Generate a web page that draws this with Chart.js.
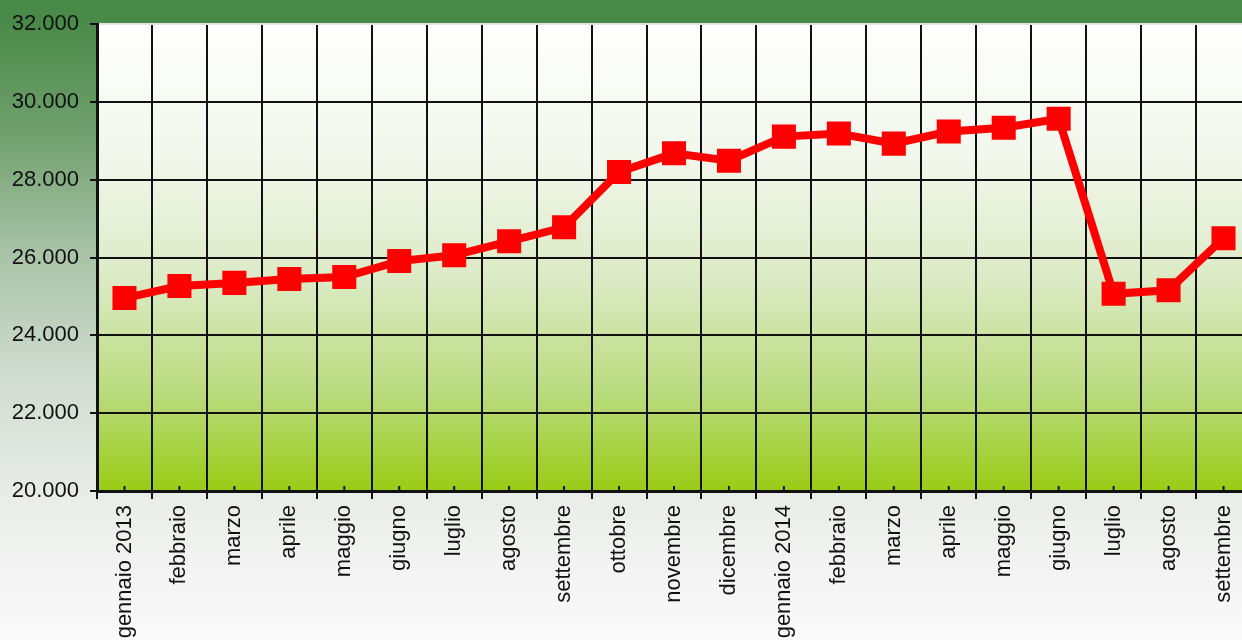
<!DOCTYPE html>
<html>
<head>
<meta charset="utf-8">
<script src="https://cdn.jsdelivr.net/npm/chart.js@4.4.0/dist/chart.umd.min.js"></script>
<style>
  html, body {
    margin: 0;
    padding: 0;
    width: 1242px;
    height: 640px;
    overflow: hidden;
  }
  body {
    background: linear-gradient(to bottom, #4a8a48 0%, #4a8a48 3.3%, #6e9f6c 20%, #a9c3a8 40%, #d2ddd2 60%, #eceeec 80%, #fafafa 100%);
  }
  #wrap {
    position: absolute;
    left: 0;
    top: 0;
    width: 1268px;
    height: 640px;
  }
</style>
</head>
<body>
<div id="wrap"><canvas id="myChart" width="1268" height="640"></canvas></div>
<script>
var months = ['gennaio 2013', 'febbraio', 'marzo', 'aprile', 'maggio', 'giugno', 'luglio', 'agosto', 'settembre', 'ottobre', 'novembre', 'dicembre',
  'gennaio 2014', 'febbraio', 'marzo', 'aprile', 'maggio', 'giugno', 'luglio', 'agosto', 'settembre'];
var values = [24960, 25270, 25350, 25450, 25500, 25910, 26060, 26420, 26780, 28200, 28680, 28490,
  29110, 29190, 28930, 29240, 29340, 29570, 25070, 25160, 26500];
var yMin = 20000;
var yMax = 32000;
var yStep = 2000;

var ctx, myChart;

// plot area fill, white at top to yellow green at bottom
var plotBg = {
  id: 'plotBg',
  beforeDraw: function (chart) {
    var a = chart.chartArea;
    var c = chart.ctx;
    var g = c.createLinearGradient(0, a.top, 0, a.bottom);
    g.addColorStop(0, '#ffffff');
    g.addColorStop(0.3, '#f1f6ea');
    g.addColorStop(0.55, '#dbeac4');
    g.addColorStop(0.8, '#b8da7a');
    g.addColorStop(1, '#99cc14');
    c.save();
    c.fillStyle = g;
    c.fillRect(a.left, a.top, a.right - a.left, a.bottom - a.top);
    c.restore();
  }
};

// small ticks at the category centres, pointing up into the plot
var minorTicks = {
  id: 'minorTicks',
  beforeDatasetsDraw: function (chart) {
    var x = chart.scales.x;
    var c = chart.ctx;
    var i, px;
    c.save();
    c.strokeStyle = '#111';
    c.lineWidth = 2;
    for (i = 0; i < months.length; i++) {
      px = x.getPixelForValue(i);
      c.beginPath();
      c.moveTo(px, chart.chartArea.bottom);
      c.lineTo(px, chart.chartArea.bottom - 5);
      c.stroke();
    }
    c.restore();
  }
};

ctx = document.getElementById('myChart');
myChart = new Chart(ctx, {
  type: 'line',
  data: {
    labels: months,
    datasets: [{
      data: values,
      borderColor: '#ff0000',
      borderWidth: 8,
      backgroundColor: '#ff0000',
      pointStyle: 'rect',
      pointRadius: 17,
      pointHoverRadius: 17,
      pointBorderWidth: 0,
      pointBackgroundColor: '#ff0000',
      tension: 0
    }]
  },
  options: {
    responsive: false,
    animation: false,
    layout: {
      padding: { top: 20, right: 0, left: 0, bottom: 0 }
    },
    plugins: {
      legend: { display: false },
      tooltip: { enabled: false }
    },
    scales: {
      x: {
        offset: true,
        grid: {
          offset: true,
          color: '#111',
          lineWidth: 2,
          tickLength: 8,
          drawOnChartArea: true
        },
        border: { color: '#111', width: 3 },
        ticks: {
          color: '#111',
          autoSkip: false,
          maxRotation: 90,
          minRotation: 90,
          padding: 6,
          font: { family: 'Liberation Sans, Arial, sans-serif', size: 22 }
        },
        afterFit: function (scale) {
          scale.height = 149;
        }
      },
      y: {
        min: yMin,
        max: yMax,
        ticks: {
          stepSize: yStep,
          color: '#111',
          padding: 11,
          font: { family: 'Liberation Sans, Arial, sans-serif', size: 22 },
          callback: function (v) {
            return String(v).replace(/\B(?=(\d{3})+(?!\d))/g, '.');
          }
        },
        grid: {
          color: function (c) {
            if (c.tick && c.tick.value === yMax) {
              return '#e4e4e4';
            }
            return '#111';
          },
          lineWidth: 2,
          tickLength: 7,
          tickColor: '#111'
        },
        border: { color: '#111', width: 3 },
        afterFit: function (scale) {
          scale.width = 97;
        }
      }
    }
  },
  plugins: [plotBg, minorTicks]
});
</script>
</body>
</html>
